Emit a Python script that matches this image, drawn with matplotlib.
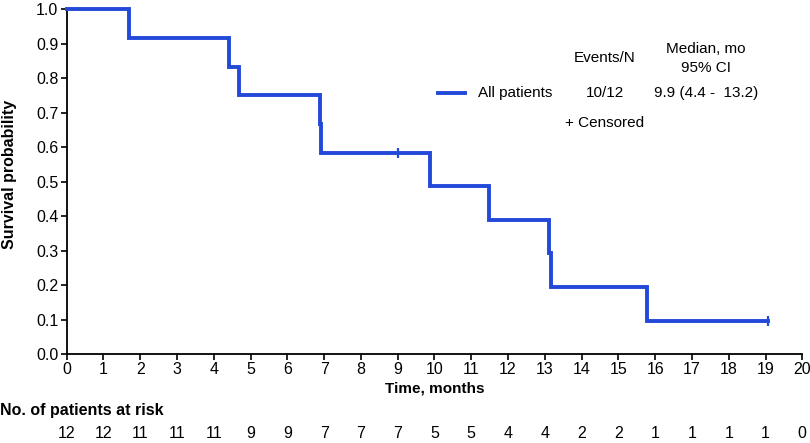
import matplotlib
matplotlib.use("Agg")
import matplotlib.pyplot as plt
from matplotlib import font_manager as fm

names = {f.name for f in fm.fontManager.ttflist}
NARROW = "Liberation Sans Narrow" if "Liberation Sans Narrow" in names else "Liberation Sans"
REG = "Liberation Sans"

# Data
event_times = [0, 1.69, 4.41, 4.68, 6.88, 6.91, 9.88, 11.48, 13.11, 13.17, 15.78, 19.07]
survival = [1.0, 0.917, 0.833, 0.750, 0.667, 0.583, 0.486, 0.389, 0.292, 0.194, 0.097, 0.097]
censor_times = [9.0, 19.07]
censor_surv = [0.583, 0.097]
risk_times = list(range(0, 21))
at_risk = [12, 12, 11, 11, 11, 9, 9, 7, 7, 7, 5, 5, 4, 4, 2, 2, 1, 1, 1, 1, 0]
xticks = list(range(0, 21))
yticks = [0.0, 0.1, 0.2, 0.3, 0.4, 0.5, 0.6, 0.7, 0.8, 0.9, 1.0]

BLUE = "#2349d9"

fig = plt.figure(figsize=(8.10, 4.43), dpi=100)
ax = fig.add_axes([66.7 / 810, 1 - 354 / 443, 735.6 / 810, (354 - 9.3) / 443])

ax.step(event_times, survival, where="post", color=BLUE, lw=2.8, clip_on=False,
        solid_joinstyle="miter", zorder=3)
ax.plot(censor_times, censor_surv, linestyle="none", marker="|", ms=7, mew=1.6,
        color=BLUE, clip_on=False, zorder=4)

ax.set_xlim(0, 20)
ax.set_ylim(0, 1.0)
ax.set_xticks(xticks)
ax.set_yticks(yticks)
ax.set_xticklabels([str(t) for t in xticks], fontfamily=NARROW, fontsize=11.5)
ax.set_yticklabels([f"{v:.1f}" for v in yticks], fontfamily=NARROW, fontsize=11.5)
for s in ["top", "right"]:
    ax.spines[s].set_visible(False)
for s in ["left", "bottom"]:
    ax.spines[s].set_linewidth(1.3)
ax.tick_params(direction="out", length=4, width=1.2, pad=2)

ax.set_xlabel("Time, months", fontfamily=NARROW, fontweight="bold", fontsize=11, labelpad=3)


def fx(px):
    return px / 810


def fy(py):
    return 1 - py / 443


fig.text(fx(10), fy(174), "Survival probability", rotation=90, ha="center", va="center",
         fontfamily=REG, fontweight="bold", fontsize=11.5)

# Legend / summary table
fig.lines.append(plt.Line2D([fx(438), fx(465)], [fy(93), fy(93)], color=BLUE, lw=2.8,
                            transform=fig.transFigure))
fig.text(fx(478), fy(93), "All patients", ha="left", va="center", fontfamily=REG, fontsize=11)
fig.text(fx(605), fy(93), "10/12", ha="center", va="center", fontfamily=REG, fontsize=11)
fig.text(fx(706), fy(93), "9.9 (4.4 -  13.2)", ha="center", va="center", fontfamily=REG, fontsize=11)
fig.text(fx(605), fy(58), "Events/N", ha="center", va="center", fontfamily=REG, fontsize=11)
fig.text(fx(706), fy(49), "Median, mo", ha="center", va="center", fontfamily=REG, fontsize=11)
fig.text(fx(706), fy(68), "95% CI", ha="center", va="center", fontfamily=REG, fontsize=11)
fig.text(fx(605), fy(123), "+ Censored", ha="center", va="center", fontfamily=REG, fontsize=11)

# Risk table
fig.text(fx(0), fy(411), "No. of patients at risk", ha="left", va="center",
         fontfamily=NARROW, fontweight="bold", fontsize=11.5)
for t, n in zip(risk_times, at_risk):
    ax.annotate(str(n), xy=(t, 0), xycoords=("data", "axes fraction"),
                xytext=(0, -(434 - 354)), textcoords="offset pixels",
                ha="center", va="center", fontfamily=NARROW, fontsize=11.5, annotation_clip=False)

fig.savefig("out.png", dpi=100)
